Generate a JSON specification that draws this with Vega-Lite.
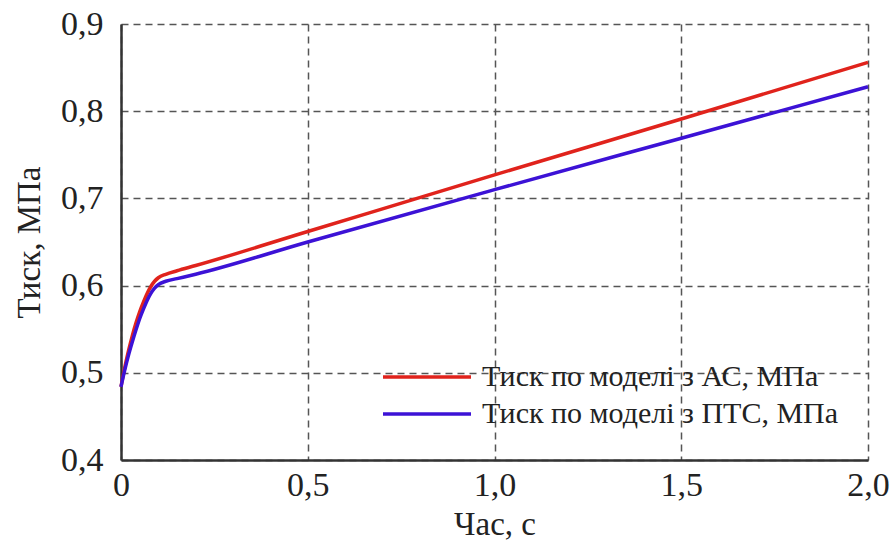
{
  "$schema": "https://vega.github.io/schema/vega-lite/v6.json",
  "width": 747,
  "height": 436,
  "autosize": {"type": "none"},
  "padding": {"left": 121, "top": 24, "right": 27, "bottom": 85},
  "background": "white",
  "data": {
    "values": [
      {"t": 0.0, "p": 0.484, "s": "Тиск по моделі з АС, МПа"},
      {"t": 0.01, "p": 0.506, "s": "Тиск по моделі з АС, МПа"},
      {"t": 0.02, "p": 0.525, "s": "Тиск по моделі з АС, МПа"},
      {"t": 0.03, "p": 0.542, "s": "Тиск по моделі з АС, МПа"},
      {"t": 0.04, "p": 0.557, "s": "Тиск по моделі з АС, МПа"},
      {"t": 0.05, "p": 0.570, "s": "Тиск по моделі з АС, МПа"},
      {"t": 0.06, "p": 0.581, "s": "Тиск по моделі з АС, МПа"},
      {"t": 0.07, "p": 0.591, "s": "Тиск по моделі з АС, МПа"},
      {"t": 0.08, "p": 0.599, "s": "Тиск по моделі з АС, МПа"},
      {"t": 0.09, "p": 0.605, "s": "Тиск по моделі з АС, МПа"},
      {"t": 0.10, "p": 0.609, "s": "Тиск по моделі з АС, МПа"},
      {"t": 0.12, "p": 0.613, "s": "Тиск по моделі з АС, МПа"},
      {"t": 0.15, "p": 0.617, "s": "Тиск по моделі з АС, МПа"},
      {"t": 0.2, "p": 0.623, "s": "Тиск по моделі з АС, МПа"},
      {"t": 0.5, "p": 0.662, "s": "Тиск по моделі з АС, МПа"},
      {"t": 1.0, "p": 0.727, "s": "Тиск по моделі з АС, МПа"},
      {"t": 1.5, "p": 0.791, "s": "Тиск по моделі з АС, МПа"},
      {"t": 2.0, "p": 0.856, "s": "Тиск по моделі з АС, МПа"},
      {"t": 0.0, "p": 0.484, "s": "Тиск по моделі з ПТС, МПа"},
      {"t": 0.01, "p": 0.503, "s": "Тиск по моделі з ПТС, МПа"},
      {"t": 0.02, "p": 0.520, "s": "Тиск по моделі з ПТС, МПа"},
      {"t": 0.03, "p": 0.535, "s": "Тиск по моделі з ПТС, МПа"},
      {"t": 0.04, "p": 0.549, "s": "Тиск по моделі з ПТС, МПа"},
      {"t": 0.05, "p": 0.562, "s": "Тиск по моделі з ПТС, МПа"},
      {"t": 0.06, "p": 0.573, "s": "Тиск по моделі з ПТС, МПа"},
      {"t": 0.07, "p": 0.583, "s": "Тиск по моделі з ПТС, МПа"},
      {"t": 0.08, "p": 0.591, "s": "Тиск по моделі з ПТС, МПа"},
      {"t": 0.09, "p": 0.597, "s": "Тиск по моделі з ПТС, МПа"},
      {"t": 0.10, "p": 0.601, "s": "Тиск по моделі з ПТС, МПа"},
      {"t": 0.12, "p": 0.605, "s": "Тиск по моделі з ПТС, МПа"},
      {"t": 0.15, "p": 0.608, "s": "Тиск по моделі з ПТС, МПа"},
      {"t": 0.2, "p": 0.613, "s": "Тиск по моделі з ПТС, МПа"},
      {"t": 0.5, "p": 0.650, "s": "Тиск по моделі з ПТС, МПа"},
      {"t": 1.0, "p": 0.710, "s": "Тиск по моделі з ПТС, МПа"},
      {"t": 1.5, "p": 0.769, "s": "Тиск по моделі з ПТС, МПа"},
      {"t": 2.0, "p": 0.828, "s": "Тиск по моделі з ПТС, МПа"}
    ]
  },
  "mark": {"type": "line", "strokeWidth": 3.5, "interpolate": "monotone"},
  "encoding": {
    "x": {
      "field": "t", "type": "quantitative",
      "scale": {"domain": [0, 2], "nice": false, "zero": false},
      "axis": {
        "title": "Час, с", "values": [0, 0.5, 1, 1.5, 2],
        "labelExpr": "datum.value == 0 ? '0' : replace(format(datum.value, '.1f'), '.', ',')"
      }
    },
    "y": {
      "field": "p", "type": "quantitative",
      "scale": {"domain": [0.4, 0.9], "nice": false, "zero": false},
      "axis": {
        "title": "Тиск, МПа", "values": [0.4, 0.5, 0.6, 0.7, 0.8, 0.9],
        "labelExpr": "replace(format(datum.value, '.1f'), '.', ',')"
      }
    },
    "color": {
      "field": "s", "type": "nominal",
      "scale": {
        "domain": ["Тиск по моделі з АС, МПа", "Тиск по моделі з ПТС, МПа"],
        "range": ["#e0231c", "#3c12d6"]
      },
      "legend": {
        "title": null, "orient": "none", "legendX": 291, "legendY": 338, "padding": 0,
        "symbolType": "M-4,0H4", "symbolSize": 484, "symbolStrokeWidth": 3.5,
        "labelFont": "Liberation Serif", "labelFontSize": 30, "labelColor": "#222",
        "labelOffset": 40, "rowPadding": 7, "labelLimit": 600
      }
    }
  },
  "config": {
    "view": {"stroke": null},
    "axis": {
      "grid": true, "gridDash": [7, 5], "gridColor": "#555", "gridWidth": 1.5,
      "domainColor": "#333", "domainWidth": 2.5,
      "ticks": false,
      "labelFont": "Liberation Serif", "labelFontSize": 34, "labelColor": "#222",
      "titleFont": "Liberation Serif", "titleFontSize": 33, "titleFontWeight": "normal", "titleColor": "#222"
    },
    "axisX": {"labelPadding": 8, "titlePadding": 6, "labelFlush": false},
    "axisY": {"labelPadding": 18, "titlePadding": 14, "labelFlush": false}
  }
}
